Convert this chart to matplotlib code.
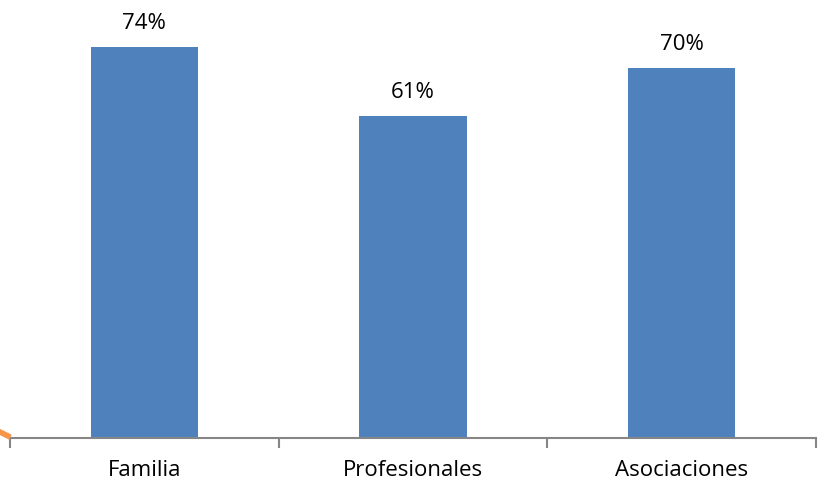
import matplotlib
matplotlib.use("Agg")
import matplotlib.pyplot as plt
from matplotlib.lines import Line2D

categories = ["Familia", "Profesionales", "Asociaciones"]
values = [74, 61, 70]
value_labels = ["74%", "61%", "70%"]

fig = plt.figure(figsize=(8.2, 4.86), dpi=100)
ax = fig.add_axes([10/820, 48/486, 806/820, 438/486])
x = list(range(len(categories)))
ax.bar(x, values, width=0.40, color="#4F81BD", zorder=2)
ax.set_xlim(-0.5, 2.5)
ax.set_ylim(0, 82.95)
for xi, v, lab in zip(x, values, value_labels):
    ax.annotate(lab, (xi, v), xytext=(0, 13), textcoords="offset points",
                ha="center", va="baseline", fontsize=16, family="Open Sans", color="#000000")

for s in ["top", "right", "left"]:
    ax.spines[s].set_visible(False)
ax.spines["bottom"].set_color("#868686")
ax.spines["bottom"].set_linewidth(1.5)
ax.set_yticks([])
ax.set_xticks(x)
ax.set_xticklabels(categories, fontsize=16, family="Open Sans")
ax.tick_params(axis="x", which="major", length=0, pad=16)
ax.set_xticks([-0.5, 0.5, 1.5, 2.5], minor=True)
ax.tick_params(axis="x", which="minor", length=7, width=1.5, color="#868686")

fig.add_artist(Line2D([0/820, 8/820], [54/486, 50/486], color="#F79646", lw=4,
                      transform=fig.transFigure))

fig.savefig("out.png", dpi=100)
